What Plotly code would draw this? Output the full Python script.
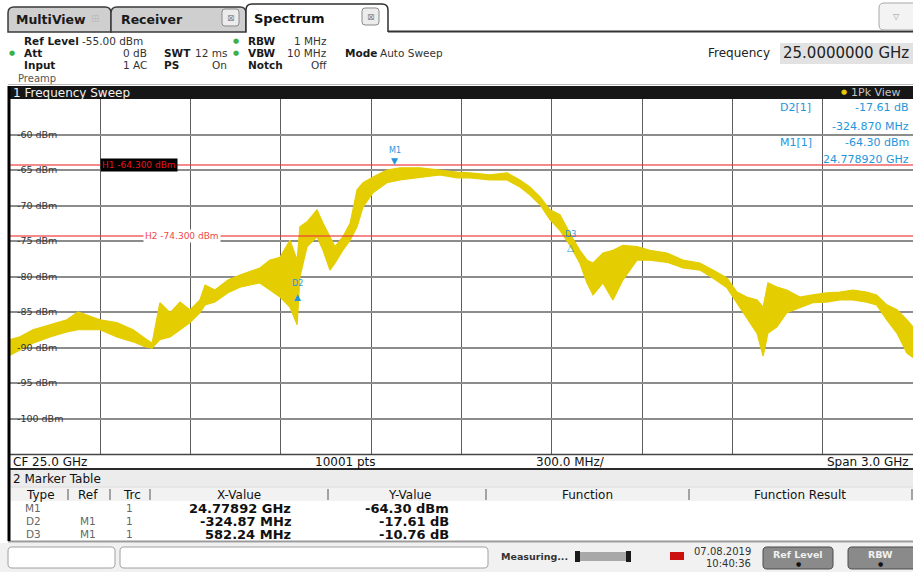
import plotly.graph_objects as go

# ------------------------------------------------------------------ data
center_freq_ghz = 25.0
span_ghz = 3.0
ref_level_dbm = -55.0
display_range_db = 50.0
sweep_points = 10001

# trace envelope (max / min of the noisy 1Pk trace)
freq_ghz = [23.500, 23.533, 23.576, 23.633, 23.689, 23.726, 23.799, 23.855, 23.909, 23.948,
            23.972, 23.998, 24.032, 24.065, 24.098, 24.131, 24.148, 24.181, 24.224, 24.264,
            24.330, 24.364, 24.397, 24.430, 24.454, 24.463, 24.487, 24.520, 24.540, 24.563,
            24.580, 24.606, 24.630, 24.653, 24.673, 24.706, 24.752, 24.796, 24.862, 24.928,
            24.985, 25.028, 25.095, 25.151, 25.194, 25.227, 25.261, 25.294, 25.327, 25.360,
            25.393, 25.417, 25.437, 25.470, 25.503, 25.536, 25.583, 25.626, 25.683, 25.736,
            25.792, 25.835, 25.882, 25.915, 25.948, 25.982, 26.002, 26.018, 26.048, 26.081,
            26.124, 26.167, 26.213, 26.257, 26.300, 26.346, 26.379, 26.413, 26.447, 26.480,
            26.500]
level_max_dbm = [-88.9, -88.5, -87.5, -86.8, -86.1, -85.0, -86.1, -86.5, -87.5, -88.7,
                 -89.4, -83.7, -85.1, -83.6, -84.7, -83.3, -81.2, -81.9, -80.5, -79.8,
                 -78.8, -77.7, -77.3, -74.9, -77.7, -73.0, -72.3, -70.6, -72.5, -74.4,
                 -75.8, -74.4, -72.5, -67.8, -66.8, -66.0, -65.0, -64.7, -64.7, -65.0,
                 -65.3, -65.4, -65.7, -65.4, -66.4, -67.4, -68.8, -70.6, -71.3, -73.9,
                 -76.3, -77.7, -78.1, -76.7, -76.3, -75.6, -75.8, -76.3, -76.7, -77.7,
                 -78.1, -79.1, -80.2, -82.2, -82.9, -83.3, -84.3, -80.9, -81.5, -81.9,
                 -82.9, -82.6, -82.3, -82.2, -81.9, -82.2, -82.6, -84.0, -84.7, -86.1,
                 -87.1]
level_min_dbm = [-91.1, -90.4, -89.4, -88.5, -87.8, -87.5, -87.5, -88.5, -89.2, -89.9,
                 -90.1, -88.9, -88.5, -87.5, -86.5, -85.1, -84.0, -83.6, -82.3, -81.5,
                 -80.9, -81.9, -82.9, -84.3, -86.8, -80.1, -75.8, -74.4, -76.3, -79.1,
                 -78.1, -76.3, -74.9, -73.0, -70.2, -68.2, -66.8, -66.4, -66.0, -65.7,
                 -66.1, -66.1, -66.4, -66.4, -67.4, -68.5, -69.9, -72.0, -73.5, -75.6,
                 -78.1, -80.9, -82.6, -80.9, -83.3, -80.5, -77.7, -77.7, -78.0, -78.8,
                 -79.1, -80.2, -81.6, -83.7, -85.7, -88.0, -91.2, -88.0, -87.1, -85.1,
                 -84.4, -83.7, -83.6, -83.3, -83.3, -83.6, -84.0, -86.1, -88.0, -90.8,
                 -91.4]

y_tick_dbm = [-60, -65, -70, -75, -80, -85, -90, -95, -100]

h_line_names = ["H1", "H2"]
h_line_dbm = [-64.3, -74.3]

m1_freq_ghz = 24.77892
m1_level_dbm = -64.30
delta_names = ["D2", "D3"]
delta_freq_mhz = [-324.87, 582.24]
delta_level_db = [-17.61, -10.76]

# ------------------------------------------------------------------ geometry helpers
W, H = 913, 572
ML, MR, MT, MB = 10, 0, 99, 118
PW = W - ML - MR
PH = H - MT - MB
FONT = "DejaVu Sans"
YEL = "rgb(228,205,0)"
BLUE = "#1e96dc"


def px(x):
    return (x - ML) / PW


def py(y):
    return (H - MB - y) / PH


def P(x, y):
    return f"{px(x):.5f},{py(y):.5f}"


shapes = []
annos = []


def rect(x0, y0, x1, y1, fill, line=None, lw=0, layer="above"):
    shapes.append(dict(type="rect", xref="paper", yref="paper",
                       x0=px(x0), x1=px(x1), y0=py(y1), y1=py(y0),
                       fillcolor=fill, line=dict(color=line or fill, width=lw), layer=layer))


def seg(x0, y0, x1, y1, color, lw):
    shapes.append(dict(type="line", xref="paper", yref="paper",
                       x0=px(x0), x1=px(x1), y0=py(y0), y1=py(y1),
                       line=dict(color=color, width=lw), layer="above"))


def rrect(x0, y0, x1, y1, r, fill, line, lw=1):
    path = (f"M{P(x0 + r, y0)} L{P(x1 - r, y0)} Q{P(x1, y0)} {P(x1, y0 + r)} "
            f"L{P(x1, y1 - r)} Q{P(x1, y1)} {P(x1 - r, y1)} L{P(x0 + r, y1)} "
            f"Q{P(x0, y1)} {P(x0, y1 - r)} L{P(x0, y0 + r)} Q{P(x0, y0)} {P(x0 + r, y0)} Z")
    shapes.append(dict(type="path", xref="paper", yref="paper", path=path,
                       fillcolor=fill, line=dict(color=line, width=lw), layer="above"))


def tab(x0, y0, x1, y1, r, fill, line, lw, closed=True):
    body = (f"M{P(x0, y1)} L{P(x0, y0 + r)} Q{P(x0, y0)} {P(x0 + r, y0)} "
            f"L{P(x1 - r, y0)} Q{P(x1, y0)} {P(x1, y0 + r)} L{P(x1, y1)}")
    shapes.append(dict(type="path", xref="paper", yref="paper", path=body + " Z",
                       fillcolor=fill, line=dict(width=0), layer="above"))
    shapes.append(dict(type="path", xref="paper", yref="paper",
                       path=body + (" Z" if closed else ""),
                       fillcolor="rgba(0,0,0,0)", line=dict(color=line, width=lw), layer="above"))


def txt(x, y, s, size=11, color="#111", bold=False, anchor="left", bg=None):
    if bold:
        s = f"<b>{s}</b>"
    a = dict(xref="paper", yref="paper", x=px(x), y=py(y), text=s, showarrow=False,
             xanchor=anchor, yanchor="middle", borderpad=0,
             font=dict(size=size, color=color, family=FONT))
    if bg:
        a["bgcolor"] = bg
    annos.append(a)


# ------------------------------------------------------------------ traces
f_start = center_freq_ghz - span_ghz / 2
f_stop = center_freq_ghz + span_ghz / 2

fig = go.Figure()
fig.add_trace(go.Scatter(x=freq_ghz, y=level_min_dbm, mode="lines",
                         line=dict(color=YEL, width=1.2), hoverinfo="skip", showlegend=False))
fig.add_trace(go.Scatter(x=freq_ghz, y=level_max_dbm, mode="lines",
                         line=dict(color=YEL, width=1.2), fill="tonexty", fillcolor=YEL,
                         hoverinfo="skip", showlegend=False))

# white patches under the inside y tick labels (hide gridlines only)
y_tick_text = [f"{v} dBm" for v in y_tick_dbm]
for v, t in zip(y_tick_dbm, y_tick_text):
    shapes.append(dict(type="rect", xref="paper", yref="y",
                       x0=px(11), x1=px(14 + 5.6 * len(t) + 2), y0=v - 0.9, y1=v + 0.9,
                       fillcolor="white", line=dict(width=0), layer="between"))

# display lines H1 / H2
for name, v in zip(h_line_names, h_line_dbm):
    shapes.append(dict(type="line", xref="paper", yref="y", x0=0, x1=1, y0=v, y1=v,
                       line=dict(color="rgba(238,60,60,0.6)", width=2), layer="above"))
annos.append(dict(xref="x", yref="y", x=f_start + span_ghz / 10, y=h_line_dbm[0],
                  text=f"{h_line_names[0]} {h_line_dbm[0]:.3f} dBm", showarrow=False,
                  xanchor="left", yanchor="middle", bgcolor="black", borderpad=1,
                  font=dict(size=9, color="#e8141e", family=FONT)))
annos.append(dict(xref="x", yref="y", x=f_start + 0.442, y=h_line_dbm[1],
                  text=f"{h_line_names[1]} {h_line_dbm[1]:.3f} dBm", showarrow=False,
                  xanchor="left", yanchor="middle", bgcolor="white", borderpad=1,
                  font=dict(size=9, color="#f04848", family=FONT)))

# markers
mk_font = dict(size=9, color=BLUE, family=FONT)
annos.append(dict(xref="x", yref="y", x=m1_freq_ghz, y=m1_level_dbm, text="▼",
                  showarrow=False, yanchor="bottom", yshift=-3, font=mk_font))
annos.append(dict(xref="x", yref="y", x=m1_freq_ghz, y=m1_level_dbm, text="M1",
                  showarrow=False, yanchor="bottom", yshift=8,
                  font=dict(size=8, color=BLUE, family=FONT)))
for name, dmhz, ddb in zip(delta_names, delta_freq_mhz, delta_level_db):
    fx = m1_freq_ghz + dmhz / 1000
    fy = m1_level_dbm + ddb
    annos.append(dict(xref="x", yref="y", x=fx, y=fy, text=name, showarrow=False,
                      yanchor="bottom", yshift=0, font=dict(size=8, color=BLUE, family=FONT)))
    annos.append(dict(xref="x", yref="y", x=fx, y=fy, text="▲" if name == "D2" else "△",
                      showarrow=False, yanchor="top", yshift=0, font=mk_font))

# marker info, top right of diagram
d2_i = delta_names.index("D2")
txt(779, 108, "D2[1]", 11, BLUE)
txt(910, 108, f"{delta_level_db[d2_i]:.2f} dB", 11, BLUE, anchor="right")
txt(910, 126, f"{delta_freq_mhz[d2_i]:.3f} MHz", 11, BLUE, anchor="right")
txt(779, 143, "M1[1]", 11, BLUE)
txt(910, 143, f"{m1_level_dbm:.2f} dBm", 11, BLUE, anchor="right")
txt(910, 159, f"{m1_freq_ghz:.6f} GHz", 11, BLUE, anchor="right")

# ------------------------------------------------------------------ instrument chrome
# tabs
tab(8, 7, 111, 32, 6, "#cfcfcf", "#3a3a3a", 1.5)
tab(111, 7, 246, 32, 6, "#cfcfcf", "#3a3a3a", 1.5)
tab(246, 4, 388, 32, 6, "white", "#2e2e2e", 1.5, closed=False)
seg(388, 31.5, 913, 31.5, "#333333", 2)
txt(15, 19, "MultiView", 12.5, "#1a1a1a", bold=True)
txt(95, 18, "⊞", 10, "#bdbdbd", anchor="center")
txt(120, 19, "Receiver", 12.5, "#1a1a1a", bold=True)
rrect(222, 9, 239, 26, 3, "#ececec", "#8a8a8a", 1)
txt(230.5, 17.5, "⊠", 9, "#8a8a8a", anchor="center")
txt(253, 18, "Spectrum", 13, "#111111", bold=True)
rrect(362, 8, 379, 25, 3, "#ececec", "#8a8a8a", 1)
txt(370.5, 16.5, "⊠", 9, "#8a8a8a", anchor="center")
rrect(879, 3, 930, 30, 5, "#f3f3f3", "#a8a8a8", 1)
txt(896, 16, "▽", 8, "#9a9a9a", anchor="center")

# setting header
GREEN = "#3cb043"
txt(23, 41, "Ref Level", 10.5, "#1a1a1a", bold=True)
txt(81, 41, f"{ref_level_dbm:.2f} dBm", 10.5, "#333333")
txt(12, 53, "●", 7, GREEN, anchor="center")
txt(23, 53, "Att", 10.5, "#1a1a1a", bold=True)
txt(148, 53, "0 dB", 10.5, "#333333", anchor="right")
txt(163, 53, "SWT", 10.5, "#1a1a1a", bold=True)
txt(228, 53, "12 ms", 10.5, "#333333", anchor="right")
txt(236, 41, "●", 7, GREEN, anchor="center")
txt(247, 41, "RBW", 10.5, "#1a1a1a", bold=True)
txt(328, 41, "1 MHz", 10.5, "#333333", anchor="right")
txt(236, 53, "●", 7, GREEN, anchor="center")
txt(247, 53, "VBW", 10.5, "#1a1a1a", bold=True)
txt(328, 53, "10 MHz", 10.5, "#333333", anchor="right")
txt(344, 53, "Mode", 10.5, "#1a1a1a", bold=True)
txt(379, 53, "Auto Sweep", 10.5, "#333333")
txt(23, 65, "Input", 10.5, "#1a1a1a", bold=True)
txt(148, 65, "1 AC", 10.5, "#333333", anchor="right")
txt(163, 65, "PS", 10.5, "#1a1a1a", bold=True)
txt(228, 65, "On", 10.5, "#333333", anchor="right")
txt(247, 65, "Notch", 10.5, "#1a1a1a", bold=True)
txt(328, 65, "Off", 10.5, "#333333", anchor="right")
txt(17, 78, "Preamp", 10, "#555555")
txt(771, 53, "Frequency", 12, "#222222", anchor="right")
rect(780, 43, 913, 64, "#e2e2e2")
txt(782, 53.5, f"{center_freq_ghz:.7f} GHz", 15, "#222222")

# diagram title bar
seg(8, 84.5, 913, 84.5, "#b8b8b8", 1)
rect(8, 86, 913, 99, "#161616")
txt(12, 92.5, "1 Frequency Sweep", 12, "#f2f2f2")
txt(844, 92, "●", 7, YEL, anchor="center")
txt(850, 92.5, "1Pk View", 11, "#c4c4c4")

# diagram footer
seg(10, 454.5, 913, 454.5, "#444444", 1.5)
txt(12, 462, f"CF {center_freq_ghz:.1f} GHz", 12, "#111111")
txt(345, 462, f"{sweep_points} pts", 12, "#111111", anchor="center")
txt(570, 462, f"{span_ghz / 10 * 1000:.1f} MHz/", 12, "#111111", anchor="center")
txt(910, 462, f"Span {span_ghz:.1f} GHz", 12, "#111111", anchor="right")
seg(8, 469, 913, 469, "#2a2a2a", 2)

# marker table
rect(10, 470, 913, 487, "#ececec")
txt(12, 479, "2 Marker Table", 12, "#111111")
rect(10, 487, 913, 501, "#f2f2f2")
seg(10, 487, 913, 487, "#dcdcdc", 1)
for sx in [68, 110, 150, 328, 486, 689, 912]:
    seg(sx, 489, sx, 500, "#555555", 1)
txt(40, 495, "Type", 12, "#111111", anchor="center")
txt(88, 495, "Ref", 12, "#111111", anchor="center")
txt(132, 495, "Trc", 12, "#111111", anchor="center")
txt(239, 495, "X-Value", 12, "#111111", anchor="center")
txt(410, 495, "Y-Value", 12, "#111111", anchor="center")
txt(587, 495, "Function", 12, "#111111", anchor="center")
txt(800, 495, "Function Result", 12, "#111111", anchor="center")

row_type = ["M1"] + delta_names
row_ref = [""] + ["M1"] * len(delta_names)
row_x = [f"{m1_freq_ghz:.5f} GHz"] + [f"{v:.2f} MHz" for v in delta_freq_mhz]
row_y = [f"{m1_level_dbm:.2f} dBm"] + [f"{v:.2f} dB" for v in delta_level_db]
for i, (tp, rf, xv, yv) in enumerate(zip(row_type, row_ref, row_x, row_y)):
    yy = 508 + 13 * i
    txt(33, yy, tp, 10.5, "#666666", anchor="center")
    if rf:
        txt(88, yy, rf, 10.5, "#666666", anchor="center")
    txt(129, yy, "1", 10.5, "#666666", anchor="center")
    txt(292, yy, xv, 13, "#111111", bold=True, anchor="right")
    txt(450, yy, yv, 13, "#111111", bold=True, anchor="right")
seg(8, 541.5, 913, 541.5, "#9a9a9a", 2)

# left frame edge
seg(9, 86, 9, 541, "#000000", 3)

# status bar
rect(0, 543, 913, 572, "#f1f1f1")
rrect(8, 547, 115, 568, 4, "white", "#a0a0a0", 1)
rrect(120, 547, 488, 568, 4, "white", "#a0a0a0", 1)
txt(500, 556, "Measuring...", 9.5, "#333333", bold=True)
rect(577, 552, 629, 561, "#a8a8a8")
rect(575, 551, 580, 562, "#1a1a1a")
rect(626, 551, 631, 562, "#1a1a1a")
rect(670, 552, 684, 560, "#cc1010")
txt(752, 551, "07.08.2019", 10, "#333333", anchor="right")
txt(752, 563, "10:40:36", 10, "#333333", anchor="right")
rrect(763, 547, 833, 569, 4, "#8a8a8a", "#4a4a4a", 1)
txt(798, 554, "Ref Level", 9.5, "#f0f0f0", bold=True, anchor="center")
txt(798, 563, "●", 6, "#111111", anchor="center")
rrect(848, 547, 930, 569, 4, "#8a8a8a", "#4a4a4a", 1)
txt(880, 554, "RBW", 9.5, "#f0f0f0", bold=True, anchor="center")
txt(880, 563, "●", 6, "#111111", anchor="center")

# ------------------------------------------------------------------ layout
fig.update_layout(
    width=W, height=H,
    margin=dict(l=ML, r=MR, t=MT, b=MB, pad=0),
    paper_bgcolor="white", plot_bgcolor="white",
    showlegend=False, hovermode=False,
    font=dict(family=FONT),
    xaxis=dict(range=[f_start, f_stop], tick0=f_start, dtick=span_ghz / 10,
               showticklabels=False, ticks="", showgrid=True, gridcolor="#5e5e5e",
               gridwidth=1.3, zeroline=False, showline=False, automargin=False,
               fixedrange=True),
    yaxis=dict(range=[ref_level_dbm - display_range_db, ref_level_dbm],
               tickmode="array", tickvals=y_tick_dbm, ticktext=y_tick_text,
               ticklabelposition="inside", ticks="", ticklabelstandoff=4,
               tickfont=dict(size=9.5, color="#333333", family=FONT),
               showgrid=True, gridcolor="#8c8c8c", gridwidth=1.8,
               zeroline=False, showline=False, automargin=False, fixedrange=True),
    shapes=shapes,
    annotations=annos,
)

fig.write_html("out.html", config={"displayModeBar": False},
               post_script="document.body.style.margin='0';document.body.style.overflow='hidden';")
